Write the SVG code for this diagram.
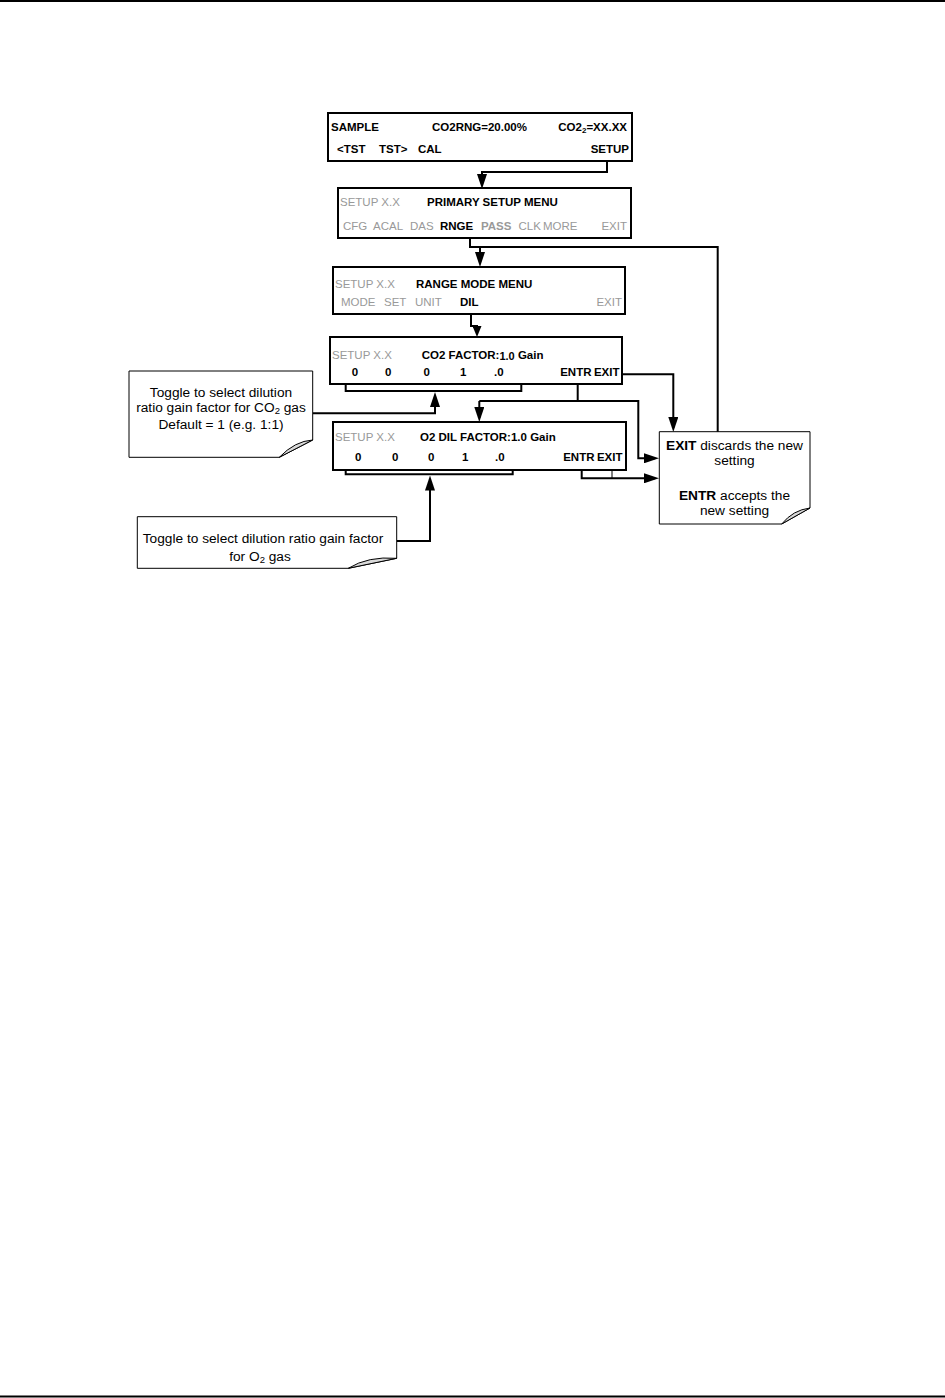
<svg xmlns="http://www.w3.org/2000/svg" width="945" height="1398" viewBox="0 0 945 1398">
<style>
.box{fill:#fff;stroke:#000;stroke-width:2}
.note{fill:#fff;stroke:#000;stroke-width:1}
.fold{fill:#d9d9d9;stroke:#000;stroke-width:1}
.t{font-family:"Liberation Sans",Arial,sans-serif;font-size:11.5px;fill:#000}
.b{font-weight:bold}
.g{fill:#999}
.c{font-family:"Liberation Sans",Arial,sans-serif;font-size:13.7px;fill:#000;text-anchor:middle}
.ln{fill:none;stroke:#000;stroke-width:2}
.thin{fill:none;stroke:#000;stroke-width:1}
</style>
<defs>
<marker id="ah" markerUnits="userSpaceOnUse" viewBox="0 0 15 10" markerWidth="15" markerHeight="10" refX="11" refY="5" orient="auto">
<path d="M0,0 L15,5 L0,10 Z" fill="#000"/>
</marker>
<marker id="ahs" markerUnits="userSpaceOnUse" viewBox="0 0 11 9" markerWidth="11" markerHeight="9" refX="8" refY="4.5" orient="auto">
<path d="M0,0 L11,4.5 L0,9 Z" fill="#000"/>
</marker>
</defs>
<rect x="0" y="0" width="945" height="1398" fill="#fff"/>
<line x1="0" y1="1" x2="945" y2="1" stroke="#000" stroke-width="2"/>
<line x1="0" y1="1396.5" x2="945" y2="1396.5" stroke="#000" stroke-width="2"/>

<g id="connectors">
<polyline class="ln" points="607,161 607,172 482,172 482,185" marker-end="url(#ah)"/>
<polyline class="ln" points="470,238 470,247 717.7,247 717.7,432"/>
<line class="ln" x1="480" y1="247" x2="480" y2="263" marker-end="url(#ah)"/>
<polyline class="ln" points="471,314 471,326 477,326 477,334" marker-end="url(#ahs)"/>
<polyline class="ln" points="345.7,373 345.7,391 521.3,391 521.3,373"/>
<polyline class="ln" points="312.7,413.3 435,413.3 435,396" marker-end="url(#ah)"/>
<line class="ln" x1="577.7" y1="384" x2="577.7" y2="401"/>
<polyline class="ln" points="479.3,401 638.3,401 638.3,458.3 655,458.3" marker-end="url(#ah)"/>
<line class="ln" x1="479.3" y1="401" x2="479.3" y2="418" marker-end="url(#ah)"/>
<polyline class="ln" points="622,374.3 673.3,374.3 673.3,428" marker-end="url(#ah)"/>
<polyline class="ln" points="345.7,453 345.7,474.3 512.7,474.3 512.7,453"/>
<polyline class="ln" points="396.7,541 430,541 430,479.5" marker-end="url(#ah)"/>
<polyline class="ln" points="581.7,470 581.7,478.3 655,478.3" marker-end="url(#ah)"/>
<line class="thin" x1="612" y1="464" x2="612" y2="478.3"/>
</g>

<g id="sample">
<rect class="box" x="328" y="113" width="304" height="48"/>
<text class="t b" x="331" y="131">SAMPLE</text>
<text class="t b" x="432" y="131">CO2RNG=20.00%</text>
<text class="t b" x="627" y="131" text-anchor="end">CO2<tspan font-size="8" dy="2">2</tspan><tspan dy="-2">=XX.XX</tspan></text>
<text class="t b" x="337" y="152.5">&lt;TST</text>
<text class="t b" x="379" y="152.5">TST&gt;</text>
<text class="t b" x="418" y="152.5">CAL</text>
<text class="t b" x="629" y="152.5" text-anchor="end">SETUP</text>
</g>

<g id="primary-setup">
<rect class="box" x="338" y="188" width="293" height="50"/>
<text class="t g" x="340" y="206">SETUP X.X</text>
<text class="t b" x="427" y="206">PRIMARY SETUP MENU</text>
<text class="t g" x="343" y="230">CFG</text>
<text class="t g" x="373" y="230">ACAL</text>
<text class="t g" x="410" y="230">DAS</text>
<text class="t b" x="440" y="230">RNGE</text>
<text class="t b g" x="481" y="230">PASS</text>
<text class="t g" x="518.5" y="230">CLK</text>
<text class="t g" x="543" y="230">MORE</text>
<text class="t g" x="627" y="230" text-anchor="end">EXIT</text>
</g>

<g id="range-mode">
<rect class="box" x="333" y="267" width="292" height="47"/>
<text class="t g" x="335" y="287.5">SETUP X.X</text>
<text class="t b" x="416" y="287.5">RANGE MODE MENU</text>
<text class="t g" x="341" y="306">MODE</text>
<text class="t g" x="384" y="306">SET</text>
<text class="t g" x="415" y="306">UNIT</text>
<text class="t b" x="460" y="306">DIL</text>
<text class="t g" x="622" y="306" text-anchor="end">EXIT</text>
</g>

<g id="co2-factor">
<rect class="box" x="330" y="337" width="292" height="47"/>
<text class="t g" x="332" y="359">SETUP X.X</text>
<text class="t b" x="421.7" y="359">CO2 FACTOR:<tspan font-size="11" dy="1">1.0</tspan><tspan dy="-1"> Gain</tspan></text>
<text class="t b" x="351.7" y="376">0</text>
<text class="t b" x="385" y="376">0</text>
<text class="t b" x="423.5" y="376">0</text>
<text class="t b" x="460" y="376">1</text>
<text class="t b" x="494" y="376">.0</text>
<text class="t b" x="591.5" y="376" text-anchor="end">ENTR</text>
<text class="t b" x="619.5" y="376" text-anchor="end">EXIT</text>
</g>

<g id="o2-factor">
<rect class="box" x="333" y="422" width="293" height="48"/>
<text class="t g" x="335" y="441">SETUP X.X</text>
<text class="t b" x="420" y="441">O2 DIL FACTOR:1.0 Gain</text>
<text class="t b" x="355" y="461">0</text>
<text class="t b" x="392" y="461">0</text>
<text class="t b" x="428" y="461">0</text>
<text class="t b" x="462" y="461">1</text>
<text class="t b" x="495" y="461">.0</text>
<text class="t b" x="594.5" y="461" text-anchor="end">ENTR</text>
<text class="t b" x="622.5" y="461" text-anchor="end">EXIT</text>
</g>

<g id="note-co2">
<path class="note" d="M129,371 H312.7 V440 L279.3,457.3 H129 Z"/>
<path class="fold" d="M279.3,457.3 L312.7,440 Q295,441 279.3,457.3 Z"/>
<text class="c" x="221" y="396.5">Toggle to select dilution</text>
<text class="c" x="221" y="411.5">ratio gain factor for CO<tspan font-size="9.5" dy="2">2</tspan><tspan dy="-2"> gas</tspan></text>
<text class="c" x="221" y="429">Default = 1 (e.g. 1:1)</text>
</g>

<g id="note-o2">
<path class="note" d="M137.3,516.7 H396.7 V558.3 L348.3,568.3 H137.3 Z"/>
<path class="fold" d="M348.3,568.3 L396.7,558.3 Q368,556 348.3,568.3 Z"/>
<text class="c" x="263" y="543">Toggle to select dilution ratio gain factor</text>
<text class="c" x="260" y="561">for O<tspan font-size="9.5" dy="2">2</tspan><tspan dy="-2"> gas</tspan></text>
</g>

<g id="note-exit">
<path class="note" d="M659.3,431.7 H810 V508 L781.7,524 H659.3 Z"/>
<path class="fold" d="M781.7,524 L810,508 Q793,510 781.7,524 Z"/>
<text class="c" x="734.5" y="450"><tspan font-weight="bold">EXIT</tspan> discards the new</text>
<text class="c" x="734.5" y="465">setting</text>
<text class="c" x="734.5" y="500"><tspan font-weight="bold">ENTR</tspan> accepts the</text>
<text class="c" x="734.5" y="515">new setting</text>
</g>
</svg>
